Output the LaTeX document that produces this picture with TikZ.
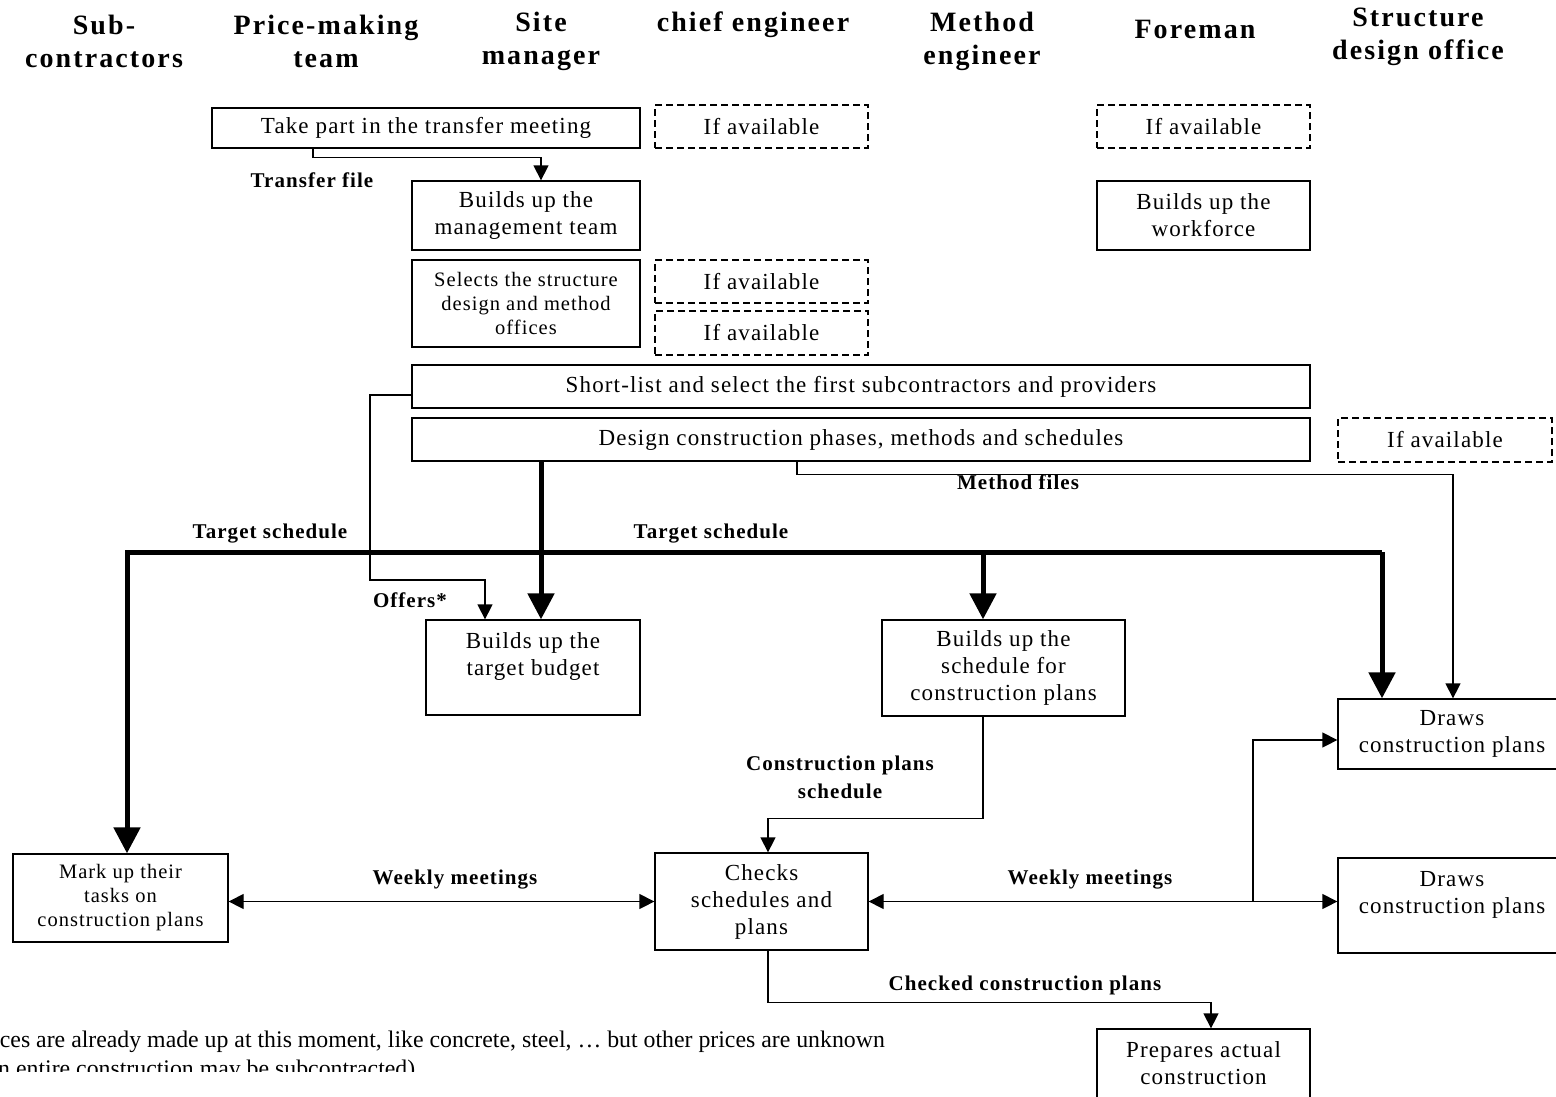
\documentclass[tikz,border=0pt]{standalone}
\usepackage{fontspec}
\setmainfont{Liberation Serif}[LetterSpace=5]
\newfontfamily\hfont{Liberation Serif}[LetterSpace=7.5]
\newfontfamily\nfont{Liberation Serif}
\usetikzlibrary{arrows.meta}
\begin{document}
\begin{tikzpicture}[x=1pt,y=-1pt,
 box/.style={draw,line width=1.3pt,align=center,inner sep=0pt,font=\fontsize{23}{27}\selectfont},
 dbox/.style={box,dash pattern=on 7pt off 4pt},
 sbox/.style={box,font=\fontsize{20.5}{24}\selectfont},
 lab/.style={font=\fontsize{21}{28}\selectfont\bfseries,align=center,inner sep=0pt},
 head/.style={font=\hfont\fontsize{28}{33}\selectfont\bfseries,align=center,inner sep=0pt},
 thinarr/.style={line width=1.3pt,-{Triangle[length=15pt,width=15pt]}},
 thickarr/.style={line width=5pt,-{Triangle[length=26pt,width=26pt]}},
 dblarr/.style={line width=1.3pt,{Triangle[length=15pt,width=15pt]}-{Triangle[length=15pt,width=15pt]}},
]
\useasboundingbox (0,0) rectangle (1556,1096);
\fill[white] (0,0) rectangle (1556,1096);
\clip (0,0) rectangle (1556,1096);

% headers
\node[head] (h1) at (104,41) {Sub-\\contractors};
\node[head] (h2) at (326,41) {Price-making\\team};
\node[head] (h3) at (541,41) {Site\\manager};
\node[head] (h4) at (753,25) {chief engineer};
\node[head] (h5) at (982,41) {Method\\engineer};
\node[head] (h6) at (1195,29) {Foreman};
\node[head] (h7) at (1418,37) {Structure\\design office};

% boxes
\node[box,minimum width=428,minimum height=40] (tm) at (426,128) {Take part in the transfer meeting};
\node[dbox,minimum width=213,minimum height=43] (ia1) at (761.5,126.5) {If available};
\node[dbox,minimum width=213,minimum height=43] (ia2) at (1203.5,126.5) {If available};
\node[box,minimum width=228,minimum height=69] (mt) at (526,215.5) {Builds up the\\management team};
\node[box,minimum width=213,minimum height=69] (wf) at (1203.5,215.5) {Builds up the\\workforce};
\node[sbox,minimum width=228,minimum height=87] (sel) at (526,303.5) {Selects the structure\\design and method\\offices};
\node[dbox,minimum width=213,minimum height=43] (ia3) at (761.5,281.5) {If available};
\node[dbox,minimum width=213,minimum height=44] (ia4) at (761.5,333) {If available};
\node[box,minimum width=898,minimum height=43] (sl) at (861,386.5) {Short-list and select the first subcontractors and providers};
\node[box,minimum width=898,minimum height=43] (dc) at (861,439.5) {Design construction phases, methods and schedules};
\node[dbox,minimum width=214,minimum height=44] (ia5) at (1445,440) {If available};
\node[box,minimum width=214,minimum height=95] (tb) at (533,667.5) {Builds up the\\target budget\\\mbox{}};
\node[box,minimum width=243,minimum height=96] (sc) at (1003.5,668) {Builds up the\\schedule for\\construction plans};
\node[box,minimum width=228,minimum height=70] (dp1) at (1452,734) {Draws\\construction plans};
\node[sbox,minimum width=215,minimum height=88] (mk) at (120.5,898) {Mark up their\\tasks on\\construction plans};
\node[box,minimum width=213,minimum height=97] (ck) at (761.5,901.5) {Checks\\schedules and\\plans};
\node[box,minimum width=228,minimum height=95] (dp2) at (1452,905.5) {Draws\\construction plans\\\mbox{}};
\node[box,minimum width=213,minimum height=96] (pa) at (1203.5,1077) {Prepares actual\\construction\\\mbox{}};

% labels
\node[lab] (l1) at (312,180) {Transfer file};
\node[lab] (l2) at (410,600) {Offers*};
\node[lab] (l3) at (270,534) {Target schedule};
\node[lab] (l4) at (711,534) {Target schedule};
\node[lab] (l5) at (1018,482) {Method files};
\node[lab] (l6) at (840,777) {Construction plans\\schedule};
\node[lab] (l7) at (455,880) {Weekly meetings};
\node[lab] (l8) at (1090,880) {Weekly meetings};
\node[lab] (l9) at (1025,985) {Checked construction plans};

% connectors
\draw[thinarr] ([xshift=-113pt]tm.south) -- ++(0,9) -| ([xshift=15pt]mt.north);
\draw[thinarr] ([yshift=-8.5pt]sl.west) -- (370,395) -- (370,580) -| ([xshift=-48pt]tb.north);
\draw[thickarr] ([xshift=-320pt]dc.south) -- ([xshift=8pt]tb.north);
\coordinate (ts1) at (127,552);
\coordinate (ts2) at (1382,552);
\coordinate (ts3) at (983,552);
\draw[thickarr] (ts2) -- (ts1) -- ([xshift=6.5pt]mk.north);
\draw[thickarr] (ts3) -- ([xshift=-20.5pt]sc.north);
\draw[thickarr] (ts2) -- ([xshift=-70pt]dp1.north);
\draw[thinarr] ([xshift=-64pt]dc.south) -- ++(0,13) -| ([xshift=1pt]dp1.north);
\draw[thinarr] ([xshift=-20.5pt]sc.south) -- ++(0,102) -| ([xshift=6.5pt]ck.north);
\draw[dblarr] (mk.east |- ck.west) -- (ck.west);
\draw[dblarr] (ck.east) -- (ck.east -| dp2.west);
\coordinate (br) at (1253,901.5);
\draw[thinarr] (br) |- ([yshift=-6pt]dp1.west);
\draw[thinarr] ([xshift=6.5pt]ck.south) -- ++(0,52) -| ([xshift=7.5pt]pa.north);

% footnote (cropped)
\begin{scope}
\clip (0,0) rectangle (1556,1071);
\node[anchor=base east,inner sep=0pt,font=\nfont\fontsize{23.8}{27}\selectfont] (fn1) at (885,1047) {ces are already made up at this moment, like concrete, steel, … but other prices are unknown};
\node[anchor=base west,inner sep=0pt,font=\nfont\fontsize{23.8}{27}\selectfont] (fn2) at (-2,1076) {n entire construction may be subcontracted)};
\end{scope}
\end{tikzpicture}
\end{document}
